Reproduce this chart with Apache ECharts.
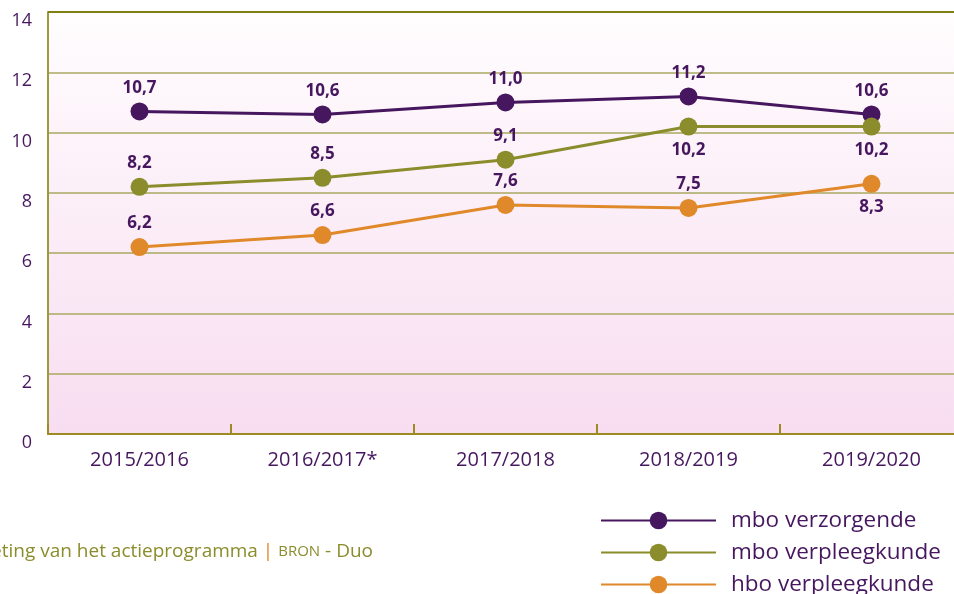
<!DOCTYPE html>
<html>
<head>
<meta charset="utf-8">
<script src="https://cdn.jsdelivr.net/npm/echarts@6/dist/echarts.min.js"></script>
<style>
  html, body { margin: 0; padding: 0; background: #fff; overflow: hidden; }
  /* plot loopt rechts iets buiten beeld door */
  #chart { width: 963px; height: 594px; }
</style>
</head>
<body>
<div id="chart"></div>
<script>
// schooljaren
const categories = ['2015/2016', '2016/2017*', '2017/2018', '2018/2019', '2019/2020']
const seriesNames = ['mbo verzorgende', 'mbo verpleegkunde', 'hbo verpleegkunde']
const mboVerzorgende = [10.7, 10.6, 11.0, 11.2, 10.6]
const mboVerpleegkunde = [8.2, 8.5, 9.1, 10.2, 10.2]
const hboVerpleegkunde = [6.2, 6.6, 7.6, 7.5, 8.3]
// labelpositie per punt (boven / onder)
const verpleegLabelPos = ['top', 'top', 'top', 'bottom', 'bottom']
const hboLabelPos = ['top', 'top', 'top', 'top', 'bottom']

const purple = '#46175f'
const olive = '#8b8c2b'
const orange = '#e0892a'
const fontFam = '"Open Sans", Lato, sans-serif'

const chart = echarts.init(document.getElementById('chart'))

function makeSeries(name, values, color, positions) {
  return {
    name: name,
    type: 'line',
    data: values.map((v, i) => ({
      value: v,
      label: { position: positions ? positions[i] : 'top' }
    })),
    symbol: 'circle',
    symbolSize: 18,
    lineStyle: { color: color, width: 3 },
    itemStyle: { color: color },
    label: {
      show: true,
      distance: 6,
      color: purple,
      fontFamily: fontFam,
      fontWeight: 'bold',
      fontSize: 17,
      formatter: (p) => p.value.toFixed(1).replace('.', ',')
    },
    z: 3
  }
}

const option = {
  animation: false,
  backgroundColor: '#ffffff',
  grid: {
    left: 48,
    top: 12,
    width: 915,
    height: 422,
    show: true,
    borderWidth: 0,
    backgroundColor: new echarts.graphic.LinearGradient(0, 0, 0, 1, [
      { offset: 0, color: '#fffdfe' },
      { offset: 1, color: '#f8ddf0' }
    ])
  },
  xAxis: {
    type: 'category',
    data: categories,
    boundaryGap: true,
    axisLine: { // 轴线
      show: true,
      lineStyle: { color: '#9c8a22', width: 2 }
    },
    axisTick: { // 刻度
      show: true,
      inside: true,
      length: 10,
      lineStyle: { color: '#9c8a22', width: 2 }
    },
    axisLabel: {
      color: purple,
      fontFamily: fontFam,
      fontSize: 20,
      margin: 16
    },
    splitLine: { show: false }
  },
  yAxis: {
    type: 'value',
    min: 0,
    max: 14,
    interval: 2,
    axisLine: {
      show: true,
      lineStyle: { color: '#9c9a40', width: 2 }
    },
    axisTick: { show: false },
    axisLabel: {
      color: purple,
      fontFamily: fontFam,
      fontSize: 18,
      margin: 16,
      verticalAlign: 'top',
      formatter: (v) => String(v)
    },
    splitLine: {
      show: true,
      lineStyle: { color: '#a9a862', width: 1.5 }
    }
  },
  legend: {
    orient: 'vertical',
    left: 600,
    top: 509,
    padding: 0,
    itemWidth: 115,
    itemHeight: 22,
    itemGap: 9,
    height: 90,
    data: seriesNames,
    textStyle: {
      color: purple,
      fontFamily: fontFam,
      fontSize: 22.5,
      lineHeight: 22,
      padding: [0, 0, 0, 10]
    }
  },
  graphic: [
    {
      type: 'line',
      shape: { x1: 48, y1: 12, x2: 963, y2: 12 },
      style: { stroke: '#7f7f12', lineWidth: 2 },
      z: 10
    },
    {
      type: 'text',
      x: 373,
      y: 542,
      style: {
        align: 'right',
        text: '{a|eting van het actieprogramma }{b||}{a| }{c|BRON}{a| - Duo}',
        rich: {
          a: { fill: '#8b8c2b', fontSize: 19, fontFamily: fontFam },
          b: { fill: orange, fontSize: 19, fontFamily: fontFam },
          c: { fill: '#8b8c2b', fontSize: 15, fontFamily: fontFam }
        }
      }
    }
  ],
  series: [
    makeSeries(seriesNames[0], mboVerzorgende, purple),
    makeSeries(seriesNames[1], mboVerpleegkunde, olive, verpleegLabelPos),
    makeSeries(seriesNames[2], hboVerpleegkunde, orange, hboLabelPos)
  ]
}

chart.setOption(option)
</script>
</body>
</html>
